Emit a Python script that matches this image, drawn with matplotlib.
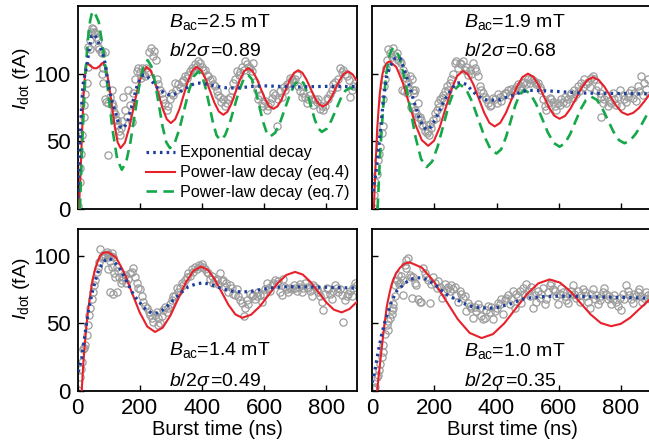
import numpy as np
import matplotlib
matplotlib.use('Agg')
import matplotlib.pyplot as plt

plt.rcParams['font.family'] = ['Liberation Sans', 'DejaVu Sans']
plt.rcParams['mathtext.fontset'] = 'custom'
plt.rcParams['mathtext.rm'] = 'Liberation Sans'
plt.rcParams['mathtext.it'] = 'Liberation Sans:italic'
plt.rcParams['mathtext.bf'] = 'Liberation Sans:bold'

# ---- measured current (burst time ns, I_dot fA) ----
tl_data = [(0,2),(6,20),(9,30),(11,41),(15,55),(19,68),(21,77),(25,85),(29,93),(32,105),(34,120),(38,118),(40,125),(43,131),(45,134),(49,133),(53,131),(56,130),(60,127),(64,125),(66,120),(70,118),(74,116),(77,115),(77,100),(80,104),(83,93),(88,116),(88,81),(92,79),(96,40),(99,78),(104,83),(109,88),(112,78),(115,76),(118,72),(120,70),(123,66),(126,66),(131,62),(134,58),(136,55),(138,60),(142,65),(147,83),(152,73),(158,68),(163,88),(168,77),(174,64),(179,86),(185,96),(190,102),(195,104),(199,101),(203,97),(207,104),(211,100),(216,98),(221,104),(226,101),(231,116),(236,119),(241,113),(246,117),(251,110),(254,96),(260,92),(265,88),(270,86),(276,81),(281,78),(286,73),(292,76),(297,81),(303,86),(308,84),(313,93),(318,88),(324,92),(330,90),(335,94),(340,95),(346,98),(351,97),(356,99),(362,102),(367,104),(372,103),(378,107),(383,106),(388,109),(394,108),(399,105),(405,103),(410,103),(415,99),(420,98),(426,95),(431,96),(437,92),(442,91),(447,87),(452,84),(458,83),(463,79),(469,81),(474,76),(480,78),(485,81),(490,83),(496,88),(501,93),(507,96),(512,102),(518,99),(523,101),(528,105),(534,103),(539,109),(545,107),(550,105),(555,104),(561,102),(566,108),(571,94),(577,88),(582,81),(588,84),(593,78),(598,76),(604,80),(609,73),(614,76),(620,78),(625,82),(630,86),(636,84),(641,61),(646,81),(652,87),(657,83),(663,90),(668,88),(674,92),(679,93),(684,97),(689,96),(695,94),(700,96),(705,99),(710,91),(716,87),(721,83),(727,86),(732,83),(737,78),(743,81),(748,84),(753,81),(759,77),(764,81),(770,79),(775,81),(781,74),(786,76),(791,73),(796,76),(802,82),(807,81),(812,85),(818,88),(823,92),(829,94),(834,90),(839,96),(845,104),(850,101),(855,103),(861,100),(866,98),(872,95),(877,83),(882,88),(888,91),(893,93),(898,90)]

tr_data = [(1,1),(5,10),(9,20),(14,26),(19,36),(23,41),(25,46),(30,56),(33,61),(36,81),(38,91),(41,96),(44,104),(48,110),(52,118),(57,115),(62,112),(67,119),(72,113),(78,115),(84,110),(89,109),(94,108),(97,88),(100,103),(103,87),(105,100),(110,97),(113,86),(116,93),(119,89),(121,98),(124,75),(127,96),(127,75),(132,88),(134,86),(137,88),(137,73),(142,71),(146,78),(148,68),(153,68),(158,66),(161,62),(164,61),(169,58),(172,62),(175,56),(180,58),(183,55),(185,63),(190,60),(196,66),(201,71),(204,67),(207,73),(212,78),(215,75),(218,81),(223,82),(228,84),(231,80),(234,87),(239,91),(244,88),(250,93),(255,96),(260,100),(266,108),(271,109),(276,104),(282,108),(287,107),(292,109),(297,103),(303,105),(308,99),(314,103),(319,100),(325,108),(330,104),(335,102),(341,98),(346,91),(351,88),(357,86),(362,83),(367,81),(373,78),(378,76),(383,77),(389,82),(394,81),(400,78),(405,85),(410,83),(416,80),(421,84),(426,86),(432,86),(437,88),(442,84),(448,89),(453,87),(458,88),(464,90),(469,92),(475,88),(480,91),(485,93),(490,94),(496,92),(501,96),(507,93),(512,96),(517,95),(523,94),(528,92),(533,93),(539,90),(544,88),(549,81),(555,76),(560,73),(566,78),(571,82),(576,81),(582,79),(587,76),(592,73),(597,78),(603,77),(608,81),(614,79),(619,83),(625,78),(630,81),(635,84),(640,86),(646,82),(651,88),(656,85),(662,91),(667,87),(673,93),(678,90),(683,96),(689,92),(694,94),(700,90),(705,97),(710,98),(715,96),(721,88),(726,91),(732,86),(737,83),(737,68),(742,78),(747,81),(753,84),(758,76),(763,80),(769,78),(774,86),(779,81),(785,77),(790,83),(796,88),(801,76),(806,84),(812,81),(817,79),(822,83),(828,86),(833,88),(838,82),(844,86),(849,80),(854,91),(860,87),(865,98),(871,84),(876,93),(882,89),(887,96)]

bl_data = [(2,0.5),(7,10),(10,16),(13,21),(18,31),(21,32),(24,34),(29,41),(34,49),(36,56),(40,61),(45,68),(50,73),(53,78),(56,82),(61,88),(66,91),(69,95),(72,105),(77,98),(80,100),(83,99),(86,101),(88,100),(93,103),(96,101),(99,99),(99,90),(104,96),(104,73),(107,100),(110,102),(112,92),(115,99),(115,72),(118,87),(120,84),(125,73),(126,92),(131,89),(134,84),(138,80),(142,82),(147,84),(152,86),(157,80),(163,83),(168,87),(174,88),(179,91),(184,84),(190,80),(195,76),(200,75),(206,70),(211,66),(217,63),(222,61),(228,58),(233,56),(238,54),(243,51),(249,56),(254,58),(257,49),(260,54),(265,50),(270,55),(276,60),(281,62),(286,58),(292,61),(297,64),(303,67),(308,70),(313,70),(319,76),(324,73),(330,76),(335,80),(340,78),(346,82),(351,84),(356,87),(362,85),(367,90),(372,88),(378,92),(383,90),(389,93),(394,92),(399,94),(405,92),(410,90),(415,88),(420,87),(426,83),(431,85),(437,80),(442,82),(448,83),(453,79),(458,87),(464,81),(469,82),(474,77),(479,80),(485,73),(490,78),(496,76),(501,72),(507,71),(512,75),(517,70),(522,67),(528,65),(534,55),(539,61),(544,67),(549,64),(555,72),(560,70),(565,71),(571,68),(576,70),(582,73),(587,71),(593,66),(598,72),(603,75),(609,80),(614,76),(620,74),(625,78),(630,80),(635,82),(641,79),(646,81),(651,73),(657,71),(662,83),(668,77),(673,75),(678,73),(684,76),(689,75),(695,78),(700,76),(705,74),(711,77),(716,79),(721,73),(727,76),(732,80),(737,77),(743,76),(748,74),(754,70),(759,78),(764,77),(770,75),(775,73),(780,70),(786,66),(791,60),(796,72),(802,76),(807,75),(812,72),(818,68),(823,74),(829,78),(834,76),(839,73),(845,75),(850,71),(855,51),(860,67),(866,70),(871,72),(877,74),(882,70),(887,76),(893,80),(898,78)]

br_data = [(1,1),(5,2),(9,3),(14,10),(19,12),(23,15),(25,20),(30,25),(33,29),(36,34),(41,42),(46,49),(49,45),(52,52),(57,54),(62,57),(62,60),(66,64),(68,61),(73,70),(73,78),(78,82),(84,86),(86,79),(89,80),(94,85),(100,82),(100,71),(105,93),(110,97),(110,91),(116,98),(121,86),(124,84),(127,69),(132,84),(137,80),(142,78),(148,68),(153,66),(158,66),(164,91),(169,87),(174,84),(180,82),(185,65),(190,79),(196,84),(201,80),(207,76),(212,81),(218,77),(223,69),(228,74),(234,79),(239,75),(244,77),(250,74),(255,78),(260,75),(265,77),(271,71),(276,66),(282,74),(287,72),(292,69),(298,70),(303,59),(308,65),(314,63),(319,61),(325,54),(330,62),(335,59),(341,64),(346,61),(351,55),(357,53),(362,54),(367,60),(373,63),(378,58),(383,62),(389,53),(394,59),(400,61),(405,65),(410,64),(416,68),(421,57),(426,67),(432,69),(437,71),(442,64),(448,68),(453,74),(458,61),(464,72),(469,70),(474,74),(480,65),(485,76),(490,72),(496,79),(501,74),(507,70),(512,77),(517,61),(523,71),(528,66),(534,74),(539,69),(544,72),(550,76),(555,64),(560,68),(566,73),(571,78),(576,80),(582,75),(587,74),(592,70),(598,64),(603,72),(608,76),(614,73),(619,70),(624,67),(630,65),(635,71),(640,74),(646,78),(651,72),(657,69),(662,74),(668,66),(673,71),(678,75),(684,73),(689,70),(695,66),(700,61),(705,72),(710,75),(716,68),(721,71),(726,64),(732,67),(737,70),(742,73),(747,76),(753,72),(758,68),(763,70),(769,64),(774,68),(779,71),(785,66),(790,63),(796,69),(801,60),(806,72),(812,68),(817,78),(822,74),(828,71),(833,68),(838,65),(844,72),(849,70),(854,73),(860,75),(865,70),(870,66),(876,69),(881,73),(887,71),(893,68),(898,72)]

# ---- fitted curves ----
tl_exp = [(0,8),(1,10),(6,40),(11,70),(17,92),(24,100),(31,108),(38,120),(45,128),(53,129),(62,126),(72,120),(80,115),(88,108),(94,99),(99,91),(110,80),(120,73),(128,66),(136,61),(147,59.5),(160,64),(175,77),(190,90),(200,96),(211,99),(222,98.5),(232,96),(244,93),(255,90),(268,87.5),(280,85.5),(291,84.6),(302,84.4),(314,85),(325,86),(338,87.8),(350,89.5),(362,91.3),(375,92.5),(385,93),(395,93),(408,92.6),(420,92),(435,91.2),(450,90.5),(465,90),(480,89.5),(500,89.4),(520,89.5),(540,90),(560,90.5),(580,90.8),(600,91),(650,90.6),(700,90.2),(750,90.4),(800,90.6),(850,90.5),(900,90.5)]
tl_eq4 = [(4,0),(8,20),(11,38),(13,50),(16,67),(18,80),(21,91),(23,98),(26,104),(29,108),(37,106.5),(45,105),(53,104),(61,104),(67,105),(72,106),(77,107.5),(82,108),(91.3,103.8),(100.7,92.3),(110,76.5),(119.3,60.8),(128.7,49.2),(138,45),(152,49),(166,60),(180,75),(194,90),(208,101),(222,105),(235,102.2),(248,94.6),(261,84.3),(274,73.9),(287,66.3),(300,63.5),(313.8,66.3),(327.7,73.9),(341.5,84.3),(355.3,94.6),(369.2,102.2),(383,105),(397.3,102.6),(411.7,96.2),(426,87.3),(440.3,78.5),(454.7,72),(469,69.6),(482.3,71.9),(495.7,78.2),(509,86.8),(522.3,95.4),(535.7,101.7),(549,104),(562.5,102),(576,96.5),(589.5,89),(603,81.5),(616.5,76),(630,74),(643.3,75.9),(656.7,81.1),(670,88.3),(683.3,95.4),(696.7,100.6),(710,102.5),(723.2,100.7),(736.3,95.8),(749.5,89.2),(762.7,82.5),(775.8,77.6),(789,75.8),(802.7,77.5),(816.3,82.3),(830,88.8),(843.7,95.2),(857.3,100),(871,101.7),(885,99.5),(900,94.4)]
tl_eq7 = [(7,0),(11,25),(15,50),(20,77),(25,100),(30,117),(35,130),(40,139),(45,144),(50,146),(53,146),(67.8,138.2),(82.7,116.8),(97.5,87.5),(112.3,58.3),(127.2,36.8),(142,29),(155.8,34.4),(169.7,49.3),(183.5,69.5),(197.3,89.8),(211.2,104.6),(225,110),(237,105.6),(249,93.8),(261,77.5),(273,61.3),(285,49.4),(297,45),(312.3,48.8),(327.7,59.2),(343,73.4),(358.3,87.5),(373.7,97.9),(389,101.7),(400.7,98.3),(412.3,89),(424,76.4),(435.7,63.7),(447.3,54.4),(459,51),(474,54.2),(489,63),(504,75),(519,87),(534,95.8),(549,99),(560.8,96),(572.7,87.7),(584.5,76.3),(596.3,64.9),(608.2,56.6),(620,53.6),(636,56.4),(652,64.1),(668,74.6),(684,85),(700,92.7),(716,95.5),(727.7,92.9),(739.3,85.9),(751,76.3),(762.7,66.6),(774.3,59.6),(786,57),(801.2,59.2),(816.3,65.2),(831.5,73.3),(846.7,81.5),(861.8,87.4),(877,89.6),(889,88.5),(900,86)]

tr_exp = [(3,13),(14,31),(25,56),(36,81),(46,98),(57,105),(73,111.5),(89,111.5),(100,105),(110,98),(121,90),(132,81),(143,73),(153,66),(164,61),(175,58.5),(190,61),(207,68),(223,76),(239,83),(255,88.5),(271,93),(287,93.5),(303,92),(319,88),(335,84.4),(351,82),(367,80.7),(390,80.5),(410,80.7),(426,82),(442,83.3),(458,84.4),(480,86.5),(501,87.7),(540,87.5),(587,87),(630,86.3),(673,85.7),(720,85.5),(780,85.4),(840,85.2),(900,85)]
tr_eq4 = [(5,0),(8,18),(10,30),(13,45),(16,60),(20,73),(24,85),(28,93),(33,100),(38,104),(44,107),(50,108.5),(57,109),(77.5,104.8),(98,93.4),(118.5,77.9),(139,62.3),(159.5,50.9),(180,46.7),(198.7,50.4),(217.3,60.5),(236,74.4),(254.7,88.2),(273.3,98.3),(292,102),(309,99.3),(326,91.8),(343,81.5),(360,71.3),(377,63.7),(394,61),(411.8,63.6),(429.7,70.8),(447.5,80.5),(465.3,90.3),(483.2,97.4),(501,100),(518,97.8),(535,91.7),(552,83.4),(569,75),(586,68.9),(603,66.7),(620.8,68.8),(638.7,74.4),(656.5,82),(674.3,89.7),(692.2,95.2),(710,97.3),(728.7,95.4),(747.3,90.4),(766,83.5),(784.7,76.5),(803.3,71.5),(822,69.6),(840,71),(858,74.5),(876,79.5),(900,87)]
tr_eq7 = [(17,0),(21,20),(25,40),(30,58),(35,75),(40,88),(45,100),(51,108),(56,114),(62,117.5),(68,119),(85.8,113.1),(103.7,97),(121.5,75),(139.3,53),(157.2,36.9),(175,31),(192.8,35.1),(210.7,46.3),(228.5,61.5),(246.3,76.8),(264.2,87.9),(282,92),(301.7,88.6),(321.3,79.3),(341,66.5),(360.7,53.8),(380.3,44.4),(400,41),(415,44.1),(430,52.8),(445,64.5),(460,76.3),(475,84.9),(490,88),(508.8,85.2),(527.7,77.5),(546.5,67),(565.3,56.5),(584.2,48.8),(603,46),(620,48.5),(637,55.3),(654,64.5),(671,73.8),(688,80.5),(705,83),(722.8,80.7),(740.7,74.4),(758.5,65.8),(776.3,57.2),(794.2,50.9),(812,48.6),(830,50.5),(848,55.5),(866,62),(884,69.5),(900,75)]

bl_exp = [(2,14),(13,24),(23,41),(34,58.5),(45,71),(56,81),(66,88),(77,93),(90,97),(102,98),(115,96),(128,93),(142,88),(158,81),(174,73.5),(190,68),(206,63.6),(222,59.5),(240,57.3),(255,57.5),(272,59.5),(290,63),(313,68.4),(335,73),(356,77),(380,79),(405,80),(430,78.5),(460,76),(490,74),(520,73.3),(550,73.3),(580,74.5),(620,76),(660,77),(700,77),(760,76.8),(820,76.5),(900,76)]
bl_eq4 = [(13,0),(18,20),(23.5,36),(29,50),(34,60.5),(40,70),(45,78),(50,84),(56,90),(64,95.5),(72,100),(81,102),(90,102.5),(99,102.5),(124,98.5),(149,87.8),(174,73),(199,58.3),(224,47.5),(249,43.5),(273.7,46.7),(298.3,55.6),(323,67.8),(347.7,79.9),(372.3,88.7),(397,92),(419.2,89.5),(441.3,82.5),(463.5,73),(485.7,63.5),(507.8,56.5),(530,54),(558.3,56.3),(586.7,62.5),(615,71),(643.3,79.5),(671.7,85.7),(700,88),(725,86),(750,80.5),(775,73),(800,65.5),(825,60),(850,58),(875,60.5),(900,66)]

br_exp = [(0,6),(9,16),(19,29),(30,41.5),(41,51.5),(51.5,59),(62,66),(78,73.7),(100,78.6),(121,82.4),(140,83.6),(160,83.6),(175,82.4),(190,80.3),(207,77.5),(223,74.3),(239,71.3),(255,69.2),(271,67.6),(292,65),(314,62.7),(335,61.8),(357,61.4),(380,61.2),(400,61.4),(420,62.8),(442,64),(461,65.8),(480,67.6),(505,68.7),(534,69.4),(580,70),(640,70),(700,69.6),(760,69.3),(830,68.9),(900,68.5)]
br_eq4 = [(16,0),(20,10),(24.7,19.5),(30,31),(35.5,42),(41,52),(46,61.4),(51.5,68),(57,73.7),(62,78.5),(67.5,82.4),(78,87.5),(89,91),(100,93.5),(110,94.6),(121,95),(159.5,91.2),(198,81),(236.5,67),(275,53),(313.5,42.8),(352,39),(388.5,41.9),(425,49.9),(461.5,60.7),(498,71.6),(534.5,79.5),(571,82.4),(604,80.1),(637,73.8),(670,65.1),(703,56.5),(736,50.1),(769,47.8),(800,49.5),(830,54),(860,60.5),(900,69)]

labels_b = ['2.5', '1.9', '1.4', '1.0']
labels_r = ['0.89', '0.68', '0.49', '0.35']

C_DATA = '#9c9c9c'
C_EXP = '#1f3f9e'
C_EQ4 = '#e8202a'
C_EQ7 = '#15a84a'

W, H = 649, 447
fig = plt.figure(figsize=(W / 100, H / 100), dpi=100)


def fr(x0, y_top, w, h):
    # pixel box -> figure fraction
    return [x0 / W, 1 - (y_top + h) / H, w / W, h / H]


ax_tl = fig.add_axes(fr(77.7, 6.0, 279.5, 203))
ax_tr = fig.add_axes(fr(372.3, 6.0, 279.5, 203))
ax_bl = fig.add_axes(fr(77.7, 228.7, 279.5, 162))
ax_br = fig.add_axes(fr(372.3, 228.7, 279.5, 162))


def xy(pts):
    a = np.array(pts, dtype=float)
    return a[:, 0], a[:, 1]


def panel(ax, data, exp, eq4, eq7, ymax, b, r, ty, left, bottom):
    t, i = xy(data)
    ax.plot(t, i, 'o', mfc='none', mec=C_DATA, ms=5.2, mew=0.9, zorder=2)
    ln_exp, = ax.plot(*xy(exp), color=C_EXP, lw=2.3, ls=(0, (0.8, 1.3)), zorder=4,
                      label='Exponential decay')
    ln_eq4, = ax.plot(*xy(eq4), color=C_EQ4, lw=1.5, zorder=3, label='Power-law decay (eq.4)')
    handles = [ln_exp, ln_eq4]
    if eq7 is not None:
        ln_eq7, = ax.plot(*xy(eq7), color=C_EQ7, lw=1.9, ls=(0, (4, 2.4)), zorder=3,
                          label='Power-law decay (eq.7)')
        handles.append(ln_eq7)
    ax.set_xlim(0, 900)
    ax.set_ylim(0, ymax)
    ax.set_xticks([0, 200, 400, 600, 800])
    ax.set_yticks([0, 50, 100])
    ax.tick_params(direction='in', length=4, width=1, labelsize=16, pad=5,
                   labelleft=left, labelbottom=bottom)
    for s in ax.spines.values():
        s.set_linewidth(1.3)
    ax.text(0.328, ty[0], r'$B_{\rm ac}$=%s mT' % b, transform=ax.transAxes,
            fontsize=14, va='baseline', ha='left')
    ax.text(0.328, ty[1], r'$b$/2$\sigma\,$=%s' % r, transform=ax.transAxes,
            fontsize=14, va='baseline', ha='left')
    if left:
        ax.set_ylabel(r'$I_{\rm dot}$ (fA)', fontsize=14)
    if bottom:
        ax.set_xlabel('Burst time (ns)', fontsize=14.5, labelpad=1)
    return handles


h = panel(ax_tl, tl_data, tl_exp, tl_eq4, tl_eq7, 150, labels_b[0], labels_r[0], (0.897, 0.755), True, False)
panel(ax_tr, tr_data, tr_exp, tr_eq4, tr_eq7, 150, labels_b[1], labels_r[1], (0.897, 0.755), False, False)
panel(ax_bl, bl_data, bl_exp, bl_eq4, None, 120, labels_b[2], labels_r[2], (0.22, 0.03), True, True)
panel(ax_br, br_data, br_exp, br_eq4, None, 120, labels_b[3], labels_r[3], (0.217, 0.028), False, True)

ax_tl.yaxis.set_label_coords(-0.165, 0.64)
ax_bl.yaxis.set_label_coords(-0.165, 0.63)

ax_tl.legend(handles=h, loc='lower right', bbox_to_anchor=(0.99, 0.02), frameon=False,
             fontsize=11.6, handlelength=1.8, handletextpad=0.3, labelspacing=0.3,
             borderpad=0.2, borderaxespad=0.1)

fig.savefig('out.png', dpi=100)
